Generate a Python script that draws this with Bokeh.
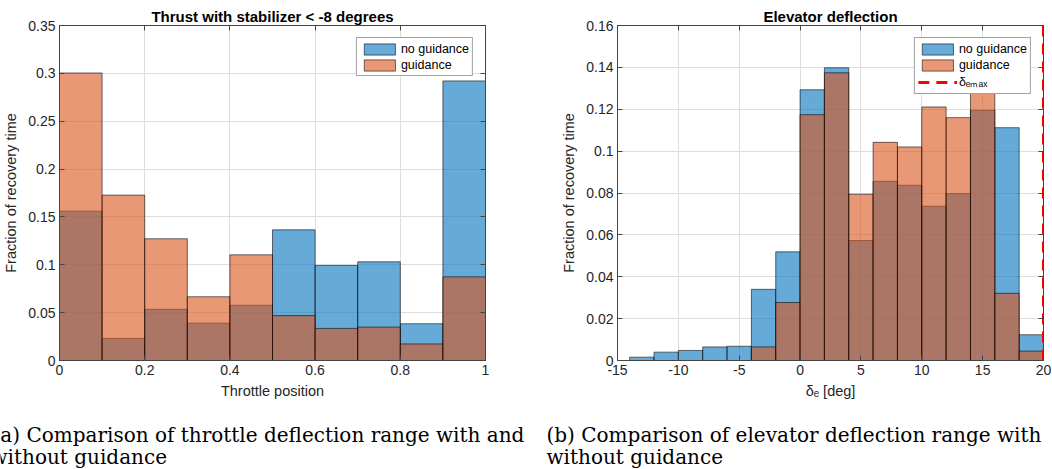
from bokeh.plotting import figure
from bokeh.models import Range1d, LinearAxis, FixedTicker, Legend, LegendItem
from bokeh.layouts import column, row
from bokeh.embed import file_html
from bokeh.resources import INLINE
from bokeh.core.properties import value

# ---------------- data ----------------
throttle_edges = [0.0, 0.1, 0.2, 0.3, 0.4, 0.5, 0.6, 0.7, 0.8, 0.9, 1.0]
throttle_no_guidance = [0.156, 0.023, 0.0535, 0.039, 0.0577, 0.1365, 0.0993, 0.1031, 0.0384, 0.2921]
throttle_guidance = [0.3004, 0.1728, 0.1272, 0.0666, 0.1104, 0.0469, 0.0335, 0.0349, 0.0173, 0.0874]

elev_edges = [-14, -12, -10, -8, -6, -4, -2, 0, 2, 4, 6, 8, 10, 12, 14, 16, 18, 20]
elev_no_guidance = [0.0016, 0.0040, 0.0048, 0.0065, 0.0068, 0.0340, 0.0519, 0.1293, 0.1398,
                    0.0573, 0.0856, 0.0837, 0.0737, 0.0797, 0.1195, 0.1112, 0.0123]
elev_guidance = [0.0, 0.0, 0.0, 0.0, 0.0, 0.0065, 0.0277, 0.1174, 0.1374,
                 0.0794, 0.1042, 0.1020, 0.1211, 0.1160, 0.1280, 0.0321, 0.0045]
delta_e_max = 20

throttle_xticks = [0, 0.2, 0.4, 0.6, 0.8, 1]
throttle_xlabels = ["0", "0.2", "0.4", "0.6", "0.8", "1"]
throttle_yticks = [0, 0.05, 0.1, 0.15, 0.2, 0.25, 0.3, 0.35]
throttle_ylabels = ["0", "0.05", "0.1", "0.15", "0.2", "0.25", "0.3", "0.35"]
elev_xticks = [-15, -10, -5, 0, 5, 10, 15, 20]
elev_xlabels = ["-15", "-10", "-5", "0", "5", "10", "15", "20"]
elev_yticks = [0, 0.02, 0.04, 0.06, 0.08, 0.1, 0.12, 0.14, 0.16]
elev_ylabels = ["0", "0.02", "0.04", "0.06", "0.08", "0.1", "0.12", "0.14", "0.16"]

series_names = ["no guidance", "guidance"]
titles = ["Thrust with stabilizer < -8 degrees", "Elevator deflection"]
xlabels = ["Throttle position", "δₑ [deg]"]
ylabel = "Fraction of recovery time"
limit_label = "δₑₘₐₓ"
captions_left = ["(a) Comparison of throttle deflection range with and", "without guidance"]
captions_right = ["(b) Comparison of elevator deflection range with", "without guidance"]

# ---------------- style ----------------
BLUE = "#0072BD"
ORANGE = "#D95319"
SANS = "Liberation Sans"
TXT = "#262626"
AX = "#444444"
GRID = "#dedede"


def make_fig(width, left, right, xr, yr, xt, xl, yt, yl, title, xlab):
    p = figure(width=width, height=405, x_range=Range1d(*xr), y_range=Range1d(*yr),
               toolbar_location=None, output_backend="svg",
               min_border_left=left, min_border_right=right,
               min_border_top=25, min_border_bottom=45)
    p.title.text = title
    p.title.align = "center"
    p.title.text_font = SANS
    p.title.text_font_size = "15px"
    p.title.text_font_style = "bold"
    p.title.text_color = "black"
    p.title.offset = 0
    p.title.standoff = 2
    p.outline_line_color = AX
    p.outline_line_width = 1
    p.background_fill_color = "white"
    p.border_fill_color = "white"
    for ax, ticks, labs in ((p.xaxis[0], xt, xl), (p.yaxis[0], yt, yl)):
        ax.ticker = FixedTicker(ticks=ticks)
        ax.major_label_overrides = {t: s for t, s in zip(ticks, labs)}
        ax.major_label_text_font = SANS
        ax.major_label_text_font_size = "14px"
        ax.major_label_text_color = TXT
        ax.axis_line_color = AX
        ax.major_tick_line_color = AX
        ax.major_tick_in = 5
        ax.major_tick_out = 0
        ax.minor_tick_line_color = None
        ax.axis_label_text_font = SANS
        ax.axis_label_text_font_size = "14.5px"
        ax.axis_label_text_font_style = "normal"
        ax.axis_label_text_color = TXT
        ax.major_label_standoff = 4
    p.xaxis[0].axis_label = xlab
    p.xaxis[0].axis_label_standoff = 5
    p.yaxis[0].axis_label = ylabel
    p.yaxis[0].axis_label_standoff = 6
    for side, ticks in (("right", yt), ("above", xt)):
        a = LinearAxis(ticker=FixedTicker(ticks=ticks), major_label_text_font_size="1px",
                       major_label_text_color=None,
                       major_label_standoff=0, axis_line_color=AX, major_tick_line_color=AX,
                       major_tick_in=5, major_tick_out=0, minor_tick_line_color=None)
        p.add_layout(a, side)
    p.xgrid.ticker = FixedTicker(ticks=xt)
    p.ygrid.ticker = FixedTicker(ticks=yt)
    p.grid.grid_line_color = GRID
    p.grid.grid_line_width = 1
    return p


def add_hist(p, edges, vals, color):
    return p.quad(left=edges[:-1], right=edges[1:], bottom=0, top=vals,
                  fill_color=color, fill_alpha=0.6, line_color="black",
                  line_alpha=0.7, line_width=0.8)


def style_legend(lg):
    lg.location = "top_right"
    lg.margin = 12
    lg.padding = 3
    lg.spacing = 1
    lg.glyph_width = 39
    lg.glyph_height = 14
    lg.label_height = 15
    lg.label_standoff = 2
    lg.label_text_font = SANS
    lg.label_text_font_size = "12.5px"
    lg.label_text_color = "black"
    lg.border_line_color = AX
    lg.border_line_width = 1
    lg.background_fill_alpha = 1.0


# ---------------- left ----------------
p1 = make_fig(530, 59, 45, (0, 1), (0, 0.35), throttle_xticks, throttle_xlabels,
              throttle_yticks, throttle_ylabels, titles[0], xlabels[0])
r1 = add_hist(p1, throttle_edges, throttle_no_guidance, BLUE)
r2 = add_hist(p1, throttle_edges, throttle_guidance, ORANGE)
lg1 = Legend(items=[LegendItem(label=series_names[0], renderers=[r1]),
                    LegendItem(label=series_names[1], renderers=[r2])])
style_legend(lg1)
p1.add_layout(lg1, "center")

# ---------------- right ----------------
elev_xr = (-15, 20)
elev_yr = (0, 0.16)
p2 = make_fig(522, 87, 9, elev_xr, elev_yr, elev_xticks, elev_xlabels,
              elev_yticks, elev_ylabels, titles[1], xlabels[1])
s1 = add_hist(p2, elev_edges, elev_no_guidance, BLUE)
s2 = add_hist(p2, elev_edges, elev_guidance, ORANGE)
s3 = p2.line(x=[delta_e_max, delta_e_max], y=[elev_yr[0], elev_yr[1]],
             line_color="red", line_width=3, line_dash="11 7")
lg2 = Legend(items=[LegendItem(label=series_names[0], renderers=[s1]),
                    LegendItem(label=series_names[1], renderers=[s2]),
                    LegendItem(label=limit_label, renderers=[s3])])
style_legend(lg2)
p2.add_layout(lg2, "center")

# ---------------- captions ----------------
cap = figure(width=1052, height=64, x_range=Range1d(0, 1052), y_range=Range1d(64, 0),
             toolbar_location=None, output_backend="svg", min_border=0)
cap.axis.visible = False
cap.grid.visible = False
cap.outline_line_color = None
cap.border_fill_color = "white"
cap.text(x=[-8, -10, 546, 546], y=[29, 51, 29, 51],
         text=[captions_left[0], captions_left[1], captions_right[0], captions_right[1]],
         text_font=value("DejaVu Serif"), text_font_size="20px",
         text_baseline="middle", text_color="black")

layout = column(row(p1, p2, spacing=0), cap, spacing=0)
open("out.html", "w").write(file_html(layout, INLINE))
